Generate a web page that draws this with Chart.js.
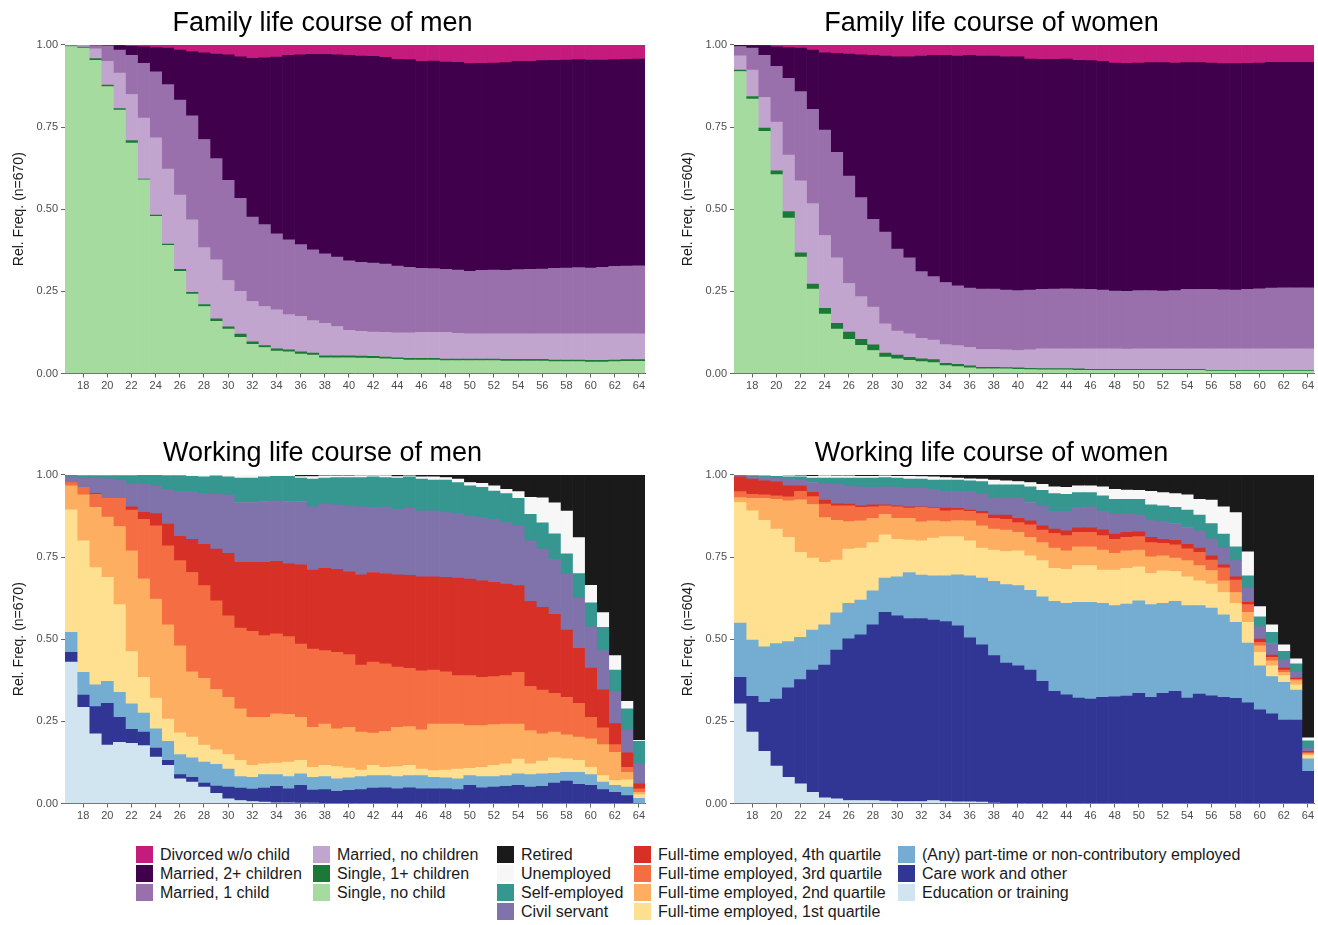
<!DOCTYPE html>
<html>
<head>
<meta charset="utf-8">
<script src="https://cdn.jsdelivr.net/npm/chart.js@4.4.0/dist/chart.umd.min.js"></script>
<style>
  body { margin: 0; background: #fff; width: 1318px; height: 925px; overflow: hidden; position: relative;
         font-family: 'Liberation Sans', Arial, sans-serif; }
  canvas { position: absolute; }
  .lcol { position: absolute; top: 845px; }
  .li { height: 19px; display: flex; align-items: center; font-size: 16px; color: #1a1a1a; white-space: nowrap; }
  .sw { width: 17px; height: 17px; margin-right: 7px; flex: none; }
</style>
</head>
<body>
<canvas id="famMen" width="650" height="400" style="left:0;top:0"></canvas>
<canvas id="famWomen" width="650" height="400" style="left:669px;top:0"></canvas>
<canvas id="workMen" width="650" height="400" style="left:0;top:430px"></canvas>
<canvas id="workWomen" width="650" height="400" style="left:669px;top:430px"></canvas>

<div class="lcol" style="left:136px">
  <div class="li"><span class="sw" style="background:#c51b7d"></span>Divorced w/o child</div>
  <div class="li"><span class="sw" style="background:#40004b"></span>Married, 2+ children</div>
  <div class="li"><span class="sw" style="background:#9970ab"></span>Married, 1 child</div>
</div>
<div class="lcol" style="left:313px">
  <div class="li"><span class="sw" style="background:#c2a5cf"></span>Married, no children</div>
  <div class="li"><span class="sw" style="background:#1b7837"></span>Single, 1+ children</div>
  <div class="li"><span class="sw" style="background:#a6dba0"></span>Single, no child</div>
</div>
<div class="lcol" style="left:497px">
  <div class="li"><span class="sw" style="background:#1a1a1a"></span>Retired</div>
  <div class="li"><span class="sw" style="background:#f7f7f7"></span>Unemployed</div>
  <div class="li"><span class="sw" style="background:#35978f"></span>Self-employed</div>
  <div class="li"><span class="sw" style="background:#8073ac"></span>Civil servant</div>
</div>
<div class="lcol" style="left:634px">
  <div class="li"><span class="sw" style="background:#d73027"></span>Full-time employed, 4th quartile</div>
  <div class="li"><span class="sw" style="background:#f46d43"></span>Full-time employed, 3rd quartile</div>
  <div class="li"><span class="sw" style="background:#fdae61"></span>Full-time employed, 2nd quartile</div>
  <div class="li"><span class="sw" style="background:#fee090"></span>Full-time employed, 1st quartile</div>
</div>
<div class="lcol" style="left:898px">
  <div class="li"><span class="sw" style="background:#74add1"></span>(Any) part-time or non-contributory employed</div>
  <div class="li"><span class="sw" style="background:#313695"></span>Care work and other</div>
  <div class="li"><span class="sw" style="background:#d1e5f0"></span>Education or training</div>
</div>

<script>
// ages 17..64
const ages = [17,18,19,20,21,22,23,24,25,26,27,28,29,30,31,32,33,34,35,36,37,38,39,40,
              41,42,43,44,45,46,47,48,49,50,51,52,53,54,55,56,57,58,59,60,61,62,63,64];

// ---- family life course, men (share of each state, bottom to top)
const menSingleNoChild = [.995,.990,.953,.873,.802,.701,.589,.478,.390,.311,.242,.204,.159,.135,.110,.089,.079,.068,.066,.059,.056,.048,.048,.048,
  .047,.046,.045,.043,.041,.041,.041,.039,.039,.039,.039,.039,.038,.038,.038,.038,.036,.036,.036,.035,.035,.036,.037,.037];
const menSingleChild = [.002,.003,.005,.005,.004,.008,.003,.004,.004,.006,.005,.006,.007,.007,.010,.007,.006,.007,.006,.007,.006,.006,.006,.006,
  .006,.006,.005,.005,.005,.005,.005,.005,.005,.005,.005,.005,.005,.005,.005,.005,.005,.005,.005,.005,.005,.005,.005,.005];
const menMarriedNoChild = [.003,.005,.030,.072,.108,.140,.185,.235,.228,.226,.221,.173,.180,.141,.130,.123,.119,.119,.107,.108,.099,.099,.089,.077,
  .075,.074,.075,.076,.078,.079,.079,.081,.078,.077,.077,.077,.078,.078,.078,.078,.080,.080,.080,.081,.081,.080,.079,.079];
const menMarried1 = [0,.002,.010,.047,.070,.119,.167,.201,.257,.289,.316,.329,.308,.305,.283,.257,.249,.231,.228,.218,.215,.211,.211,.212,
  .210,.210,.208,.203,.199,.195,.194,.192,.193,.190,.193,.194,.193,.195,.196,.197,.199,.200,.201,.200,.202,.205,.206,.207];
const menMarried2 = [0,0,.002,.003,.014,.028,.050,.074,.111,.152,.196,.264,.318,.382,.431,.483,.508,.538,.561,.578,.595,.607,.616,.625,
  .628,.629,.629,.629,.632,.630,.632,.631,.632,.632,.630,.630,.632,.634,.633,.634,.633,.633,.633,.633,.631,.629,.629,.629];
const menDivorced = [0,0,0,0,.002,.004,.006,.008,.010,.016,.020,.024,.028,.030,.036,.041,.039,.037,.032,.030,.029,.029,.030,.032,
  .034,.035,.038,.044,.045,.050,.049,.052,.053,.057,.056,.055,.054,.050,.050,.048,.047,.046,.045,.046,.046,.045,.044,.043];

// ---- family life course, women
const womenSingleNoChild = [.919,.835,.737,.605,.473,.354,.257,.181,.135,.104,.086,.070,.050,.045,.040,.036,.033,.024,.021,.017,.014,.014,.014,.013,
  .012,.011,.011,.011,.010,.010,.010,.010,.010,.010,.010,.010,.010,.010,.010,.007,.007,.007,.007,.007,.007,.007,.007,.007];
const womenSingleChild = [.004,.008,.010,.012,.020,.013,.015,.017,.018,.022,.018,.017,.012,.011,.009,.009,.009,.007,.007,.006,.005,.005,.004,.004,
  .004,.004,.004,.004,.004,.003,.003,.003,.003,.003,.003,.003,.003,.003,.003,.003,.003,.003,.003,.003,.003,.003,.003,.003];
const womenMarriedNoChild = [.044,.080,.093,.148,.172,.219,.245,.222,.199,.148,.130,.115,.089,.073,.072,.062,.060,.057,.057,.057,.054,.054,.054,.053,
  .056,.060,.060,.060,.061,.062,.062,.062,.061,.062,.062,.062,.062,.062,.062,.065,.065,.065,.065,.065,.065,.065,.065,.065];
const womenMarried1 = [.028,.067,.128,.170,.233,.272,.287,.321,.321,.327,.301,.267,.279,.250,.231,.203,.193,.189,.182,.180,.184,.184,.182,.182,
  .182,.181,.182,.183,.182,.181,.179,.176,.176,.177,.177,.176,.177,.181,.181,.181,.180,.179,.181,.183,.185,.186,.186,.186];
const womenMarried2 = [.005,.008,.030,.059,.094,.132,.180,.235,.301,.371,.435,.499,.536,.585,.612,.656,.673,.691,.699,.708,.709,.709,.710,.712,
  .703,.700,.699,.699,.696,.696,.696,.694,.694,.693,.694,.695,.693,.690,.690,.689,.688,.689,.688,.687,.687,.686,.686,.686];
const womenDivorced = [0,.002,.002,.006,.008,.010,.016,.024,.026,.028,.030,.032,.034,.036,.036,.034,.032,.032,.034,.032,.034,.034,.036,.036,
  .043,.044,.044,.043,.047,.048,.050,.055,.055,.055,.054,.054,.055,.054,.054,.055,.057,.057,.056,.055,.053,.053,.053,.053];

// ---- working life course, men
const menEdu = [.430,.293,.212,.178,.186,.183,.176,.141,.116,.075,.065,.050,.031,.014,.009,.006,.004,.002,.002,.001,.001,0,0,0,
  0,0,0,0,0,0,0,0,0,0,0,0,0,0,0,0,0,0,0,0,0,0,0,0];
const menCare = [.030,.037,.083,.127,.076,.043,.041,.028,.015,.013,.015,.012,.022,.036,.038,.038,.043,.050,.043,.054,.040,.042,.037,.040,
  .042,.047,.048,.045,.048,.045,.045,.045,.042,.055,.048,.050,.052,.055,.050,.052,.062,.068,.058,.055,.042,.034,.024,0];
const menPart = [.061,.069,.066,.067,.076,.077,.058,.058,.058,.061,.059,.064,.066,.055,.035,.036,.041,.036,.037,.035,.039,.040,.038,.038,
  .040,.038,.037,.037,.037,.040,.035,.033,.033,.030,.034,.032,.033,.035,.038,.038,.030,.027,.037,.033,.023,.021,.026,.016];
const menFt1 = [.373,.400,.357,.316,.267,.159,.109,.094,.068,.066,.063,.052,.044,.044,.049,.036,.033,.035,.044,.041,.030,.034,.037,.030,
  .020,.031,.025,.030,.031,.020,.020,.024,.030,.022,.028,.034,.036,.045,.033,.039,.047,.041,.036,.022,.020,.015,.022,.011];
const menFt2 = [.073,.140,.183,.184,.238,.307,.300,.301,.287,.265,.199,.203,.184,.174,.157,.146,.141,.150,.145,.131,.122,.126,.115,.124,
  .115,.098,.109,.120,.118,.119,.142,.140,.137,.130,.127,.124,.121,.107,.101,.083,.078,.073,.071,.087,.094,.086,.023,.007];
const menFt3 = [.010,.023,.040,.057,.086,.124,.181,.223,.240,.259,.302,.282,.270,.248,.246,.262,.249,.243,.237,.223,.238,.223,.233,.221,
  .204,.216,.206,.183,.177,.180,.164,.159,.147,.152,.147,.146,.147,.157,.134,.133,.118,.114,.103,.065,.051,.023,.015,.011];
const menFt4 = [0,0,.003,0,0,.010,.021,.037,.066,.074,.101,.126,.157,.190,.200,.210,.223,.221,.221,.241,.240,.251,.253,.253,
  .275,.273,.275,.281,.283,.286,.284,.287,.297,.294,.294,.287,.279,.264,.259,.252,.241,.205,.167,.150,.116,.064,.044,.016];
const menCivil = [.017,.028,.046,.059,.055,.069,.086,.084,.106,.136,.145,.154,.167,.178,.182,.182,.185,.184,.190,.193,.193,.195,.196,.199,
  .207,.198,.203,.199,.204,.201,.201,.197,.196,.192,.192,.192,.187,.182,.184,.177,.167,.170,.152,.126,.119,.096,.070,.060];
const menSelf = [.005,.008,.008,.010,.014,.026,.028,.034,.042,.049,.047,.051,.056,.055,.074,.074,.075,.075,.077,.071,.084,.079,.083,.087,
  .089,.093,.089,.095,.096,.096,.093,.099,.095,.092,.092,.086,.088,.084,.081,.080,.078,.062,.076,.073,.071,.067,.064,.068];
const menUnemp = [.001,.002,.002,.002,.002,.002,0,0,.002,.002,.004,.006,.003,.006,.010,.010,.006,.004,.004,.005,.008,.007,.005,.005,
  .006,.004,.006,.005,.003,.007,.010,.008,.010,.010,.012,.016,.013,.020,.052,.076,.094,.130,.109,.053,.045,.044,.023,.003];
const menRetired = [0,0,0,0,0,0,0,0,0,0,0,0,0,0,0,0,0,0,0,.005,.005,.003,.003,.003,
  .002,.002,.002,.005,.003,.006,.006,.008,.013,.023,.026,.033,.044,.051,.068,.070,.085,.110,.191,.336,.419,.550,.689,.808];

// ---- working life course, women
const womenEdu = [.303,.217,.159,.114,.080,.060,.034,.017,.014,.009,.009,.009,.007,.006,.006,.006,.009,.006,.005,.005,.004,.001,0,0,
  0,0,0,0,0,0,0,0,0,0,0,0,0,0,0,0,0,0,0,0,0,0,0,0];
const womenCare = [.081,.109,.149,.204,.272,.317,.372,.404,.453,.492,.504,.535,.575,.565,.557,.557,.549,.548,.536,.499,.479,.449,.427,.419,
  .406,.372,.341,.331,.321,.318,.323,.325,.327,.335,.323,.335,.341,.321,.333,.328,.323,.320,.306,.285,.273,.254,.254,.098];
const womenPart = [.165,.171,.169,.169,.141,.129,.122,.123,.113,.108,.106,.103,.104,.119,.140,.132,.135,.139,.155,.189,.203,.226,.239,.244,
  .243,.257,.274,.278,.291,.294,.286,.277,.280,.282,.282,.274,.274,.281,.269,.267,.251,.231,.182,.134,.113,.115,.091,.038];
const womenFt1 = [.367,.394,.385,.348,.317,.258,.219,.190,.161,.165,.158,.147,.132,.114,.099,.104,.115,.119,.116,.106,.091,.095,.101,.106,
  .105,.110,.101,.104,.112,.112,.101,.108,.109,.103,.095,.099,.091,.088,.076,.073,.068,.058,.063,.041,.033,.020,.016,.010];
const womenFt2 = [.015,.038,.067,.091,.111,.160,.163,.136,.121,.084,.083,.074,.062,.064,.066,.058,.052,.046,.049,.061,.068,.064,.065,.056,
  .056,.055,.061,.056,.057,.057,.061,.051,.053,.051,.051,.046,.041,.049,.046,.041,.036,.033,.031,.020,.015,.010,.013,.005];
const womenFt3 = [.018,.012,.010,.010,.012,.026,.024,.041,.044,.048,.041,.035,.026,.035,.031,.044,.039,.033,.032,.029,.037,.033,.033,.030,
  .038,.038,.045,.046,.044,.044,.044,.043,.041,.041,.043,.038,.040,.036,.040,.032,.039,.038,.023,.010,.011,.007,.004,.004];
const womenFt4 = [.045,.046,.043,.044,.034,.017,.013,.012,.007,.005,.005,.006,.003,.003,.004,.002,.002,.008,.005,.004,.007,.010,.013,.013,
  .012,.013,.013,.015,.015,.015,.018,.016,.015,.015,.016,.012,.014,.014,.013,.013,.009,.010,.007,.010,.007,.006,.004,.004];
const womenCivil = [.002,.007,.010,.010,.020,.017,.030,.049,.059,.056,.058,.053,.055,.056,.056,.056,.055,.052,.051,.056,.052,.051,.051,.061,
  .056,.061,.054,.059,.061,.063,.056,.060,.055,.051,.051,.054,.051,.051,.053,.051,.051,.049,.044,.038,.035,.025,.017,.009];
const womenSelf = [.003,.004,.005,.006,.007,.010,.013,.018,.018,.023,.026,.028,.028,.028,.028,.028,.028,.033,.035,.033,.039,.041,.041,.041,
  .048,.047,.054,.052,.045,.043,.047,.046,.046,.048,.048,.048,.049,.053,.048,.047,.043,.042,.037,.030,.034,.026,.026,.023];
const womenUnemp = [.001,.002,.003,.004,.004,.003,.006,.008,.007,.007,.006,.006,.005,.006,.009,.008,.010,.008,.006,.006,.007,.014,.012,.010,
  .013,.018,.021,.021,.021,.021,.028,.030,.028,.027,.041,.040,.042,.046,.048,.071,.083,.104,.073,.031,.023,.020,.015,.009];
const womenRetired = [0,0,0,0,.002,.003,.004,.002,.003,.003,.004,.004,.003,.004,.004,.005,.006,.008,.010,.012,.013,.016,.018,.020,
  .023,.029,.036,.038,.033,.033,.036,.044,.046,.047,.050,.054,.057,.061,.074,.077,.097,.115,.234,.401,.456,.517,.560,.800];

const FONT = "'Liberation Sans', Arial, sans-serif";
Chart.defaults.font.family = FONT;

function ds(label, color, values) {
  return { label: label, data: values, backgroundColor: color, borderWidth: 0,
           barPercentage: 1, categoryPercentage: 1 };
}

function makeChart(id, title, yTitle, datasets) {
  const ctx = document.getElementById(id).getContext('2d');
  return new Chart(ctx, {
    type: 'bar',
    data: { labels: ages, datasets: datasets },
    options: {
      responsive: false,
      animation: false,
      layout: { padding: { left: 0, right: 5, top: 0, bottom: 0 } },
      plugins: {
        legend: { display: false },
        tooltip: { enabled: false },
        title: {
          display: true, text: title, color: '#000',
          font: { size: 27, weight: 'normal' },
          padding: { top: 7, bottom: 5.5 }
        }
      },
      scales: {
        x: {
          stacked: true,
          offset: true,
          grid: {
            offset: false, drawOnChartArea: false, tickLength: 4,
            color: (c) => (ages[c.index] % 2 === 0 ? '#666' : 'rgba(0,0,0,0)')
          },
          border: { display: true, color: '#666', width: 1 },
          ticks: {
            autoSkip: false, maxRotation: 0, padding: 2, color: '#4d4d4d', font: { size: 11 },
            callback: (v, i) => (ages[i] % 2 === 0 ? String(ages[i]) : '')
          },
          afterFit: (s) => { s.height = 26.5; }
        },
        y: {
          stacked: true, min: 0, max: 1,
          grid: { drawOnChartArea: false, tickLength: 4, color: '#666' },
          border: { display: false },
          ticks: { stepSize: 0.25, padding: 3, color: '#4d4d4d', font: { size: 11 },
                   callback: (v) => v.toFixed(2) },
          title: { display: true, text: yTitle, color: '#1a1a1a', font: { size: 14 },
                   padding: { top: 11, bottom: 0 } },
          afterFit: (s) => { s.width = 65; }
        }
      }
    }
  });
}

makeChart('famMen', 'Family life course of men', 'Rel. Freq. (n=670)', [
  ds('Single, no child', '#a6dba0', menSingleNoChild),
  ds('Single, 1+ children', '#1b7837', menSingleChild),
  ds('Married, no children', '#c2a5cf', menMarriedNoChild),
  ds('Married, 1 child', '#9970ab', menMarried1),
  ds('Married, 2+ children', '#40004b', menMarried2),
  ds('Divorced w/o child', '#c51b7d', menDivorced)
]);

makeChart('famWomen', 'Family life course of women', 'Rel. Freq. (n=604)', [
  ds('Single, no child', '#a6dba0', womenSingleNoChild),
  ds('Single, 1+ children', '#1b7837', womenSingleChild),
  ds('Married, no children', '#c2a5cf', womenMarriedNoChild),
  ds('Married, 1 child', '#9970ab', womenMarried1),
  ds('Married, 2+ children', '#40004b', womenMarried2),
  ds('Divorced w/o child', '#c51b7d', womenDivorced)
]);

makeChart('workMen', 'Working life course of men', 'Rel. Freq. (n=670)', [
  ds('Education or training', '#d1e5f0', menEdu),
  ds('Care work and other', '#313695', menCare),
  ds('(Any) part-time or non-contributory employed', '#74add1', menPart),
  ds('Full-time employed, 1st quartile', '#fee090', menFt1),
  ds('Full-time employed, 2nd quartile', '#fdae61', menFt2),
  ds('Full-time employed, 3rd quartile', '#f46d43', menFt3),
  ds('Full-time employed, 4th quartile', '#d73027', menFt4),
  ds('Civil servant', '#8073ac', menCivil),
  ds('Self-employed', '#35978f', menSelf),
  ds('Unemployed', '#f7f7f7', menUnemp),
  ds('Retired', '#1a1a1a', menRetired)
]);

makeChart('workWomen', 'Working life course of women', 'Rel. Freq. (n=604)', [
  ds('Education or training', '#d1e5f0', womenEdu),
  ds('Care work and other', '#313695', womenCare),
  ds('(Any) part-time or non-contributory employed', '#74add1', womenPart),
  ds('Full-time employed, 1st quartile', '#fee090', womenFt1),
  ds('Full-time employed, 2nd quartile', '#fdae61', womenFt2),
  ds('Full-time employed, 3rd quartile', '#f46d43', womenFt3),
  ds('Full-time employed, 4th quartile', '#d73027', womenFt4),
  ds('Civil servant', '#8073ac', womenCivil),
  ds('Self-employed', '#35978f', womenSelf),
  ds('Unemployed', '#f7f7f7', womenUnemp),
  ds('Retired', '#1a1a1a', womenRetired)
]);
</script>
</body>
</html>
